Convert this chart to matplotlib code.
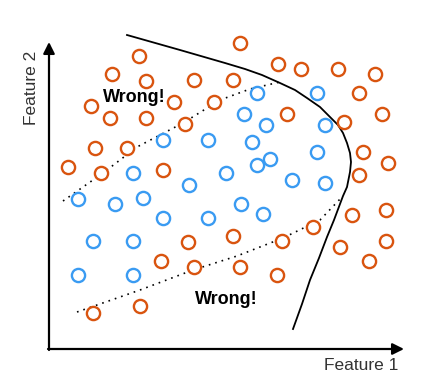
import matplotlib
matplotlib.use('Agg')
import matplotlib.pyplot as plt

# point positions (in image pixel units, y grows downward)
orange_x = [139, 112, 146, 194, 233, 91, 174, 214, 110, 146, 185, 95, 127, 68, 101, 163,
            240, 278, 301, 338, 375, 359, 287, 382, 344, 363, 388, 359,
            188, 233, 161, 194, 240, 140, 93,
            352, 386, 340, 386, 369, 282, 313, 277]
orange_y = [56, 74, 81, 80, 80, 106, 102, 102, 118, 118, 124, 148, 148, 167, 173, 170,
            43, 64, 69, 69, 74, 93, 114, 114, 122, 152, 163, 175,
            242, 236, 261, 267, 267, 306, 313,
            215, 210, 247, 241, 261, 241, 227, 275]

blue_x = [163, 208, 133, 226, 189, 257, 317, 244, 266, 325, 252, 317, 270, 257, 292, 325,
          78, 115, 143, 163, 208, 241, 263, 93, 133, 78, 133]
blue_y = [140, 140, 173, 173, 185, 93, 93, 114, 125, 125, 142, 152, 159, 165, 180, 183,
          199, 204, 198, 218, 218, 204, 214, 241, 241, 275, 275]

# decision boundary and the two "wrong" dotted lines
bound_x = [127, 180, 225, 245, 262, 280, 295, 307, 320, 330, 338, 343, 347, 350, 351, 350,
           347, 343, 340, 334, 327, 319, 310, 302, 293]
bound_y = [35, 50, 63, 69, 75, 83, 90, 98, 107, 117, 125, 133, 143, 153, 162, 172,
           187, 196, 204, 220, 237, 258, 280, 304, 329]
upper_x = [63, 103, 137, 183, 220, 250, 280]
upper_y = [201, 173, 147, 123, 100, 89, 82]
lower_x = [77, 140, 193, 237, 283, 320, 342]
lower_y = [312, 290, 270, 256, 238, 220, 197]

fig = plt.figure(figsize=(4.41, 3.83), dpi=100)
ax = fig.add_axes([0, 0, 1, 1])
ax.set_xlim(0, 441)
ax.set_ylim(383, 0)
ax.axis('off')

ax.plot(upper_x, upper_y, ls=(0, (1, 3)), color='black', lw=1.2)
ax.plot(lower_x, lower_y, ls=(0, (1, 3)), color='black', lw=1.2)
ax.plot(bound_x, bound_y, color='black', lw=1.3)

ax.plot(orange_x, orange_y, 'o', ms=9.5, mfc='white', mec='#D9540F', mew=1.7)
ax.plot(blue_x, blue_y, 'o', ms=9.5, mfc='white', mec='#3A9BF2', mew=1.7)

# axes arrows
ax.annotate('', xy=(49, 42), xytext=(49, 350),
            arrowprops=dict(arrowstyle='-|>', color='black', lw=1.6, mutation_scale=17,
                            shrinkA=0, shrinkB=0))
ax.annotate('', xy=(404, 349), xytext=(48, 349),
            arrowprops=dict(arrowstyle='-|>', color='black', lw=1.6, mutation_scale=17,
                            shrinkA=0, shrinkB=0))

ax.text(134, 98, 'Wrong!', fontsize=13, fontweight='bold', family='Liberation Sans',
        ha='center', va='center')
ax.text(226, 300, 'Wrong!', fontsize=13, fontweight='bold', family='Liberation Sans',
        ha='center', va='center')

ax.text(361, 366, 'Feature 1', fontsize=12.5, family='Liberation Sans', color='#333333',
        ha='center', va='center')
ax.text(31, 88, 'Feature 2', fontsize=12.5, family='Liberation Sans', color='#333333',
        ha='center', va='center', rotation=90)

fig.savefig('out.png', dpi=100)
